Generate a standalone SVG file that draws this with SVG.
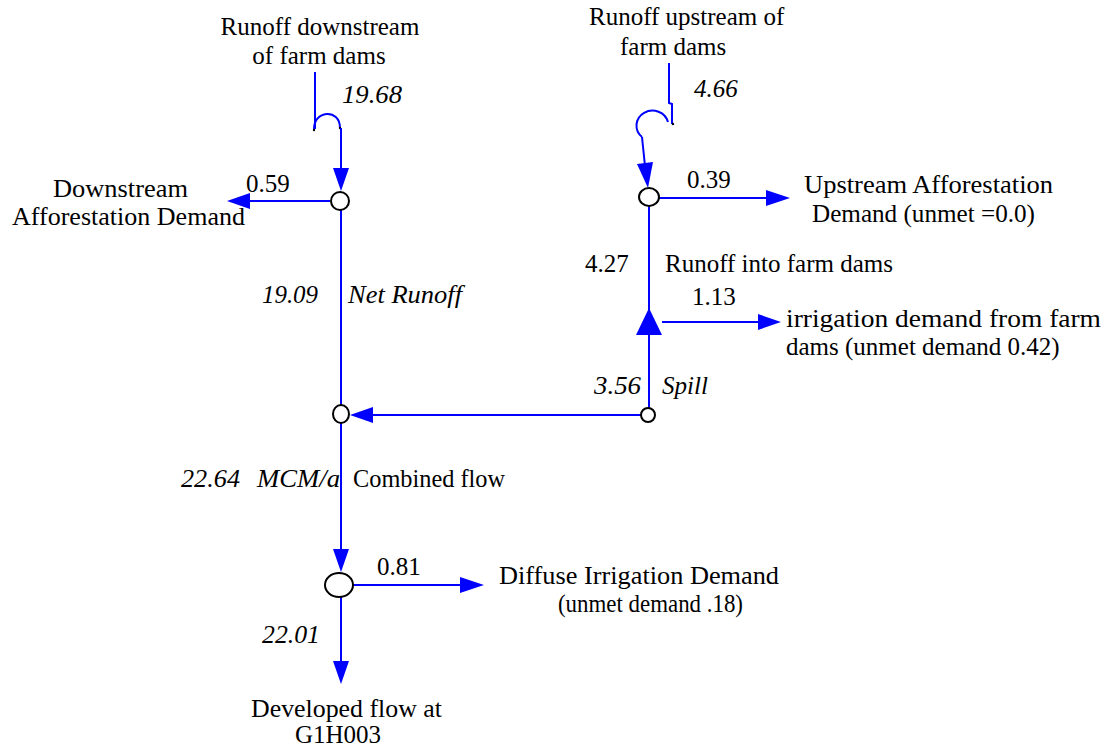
<svg xmlns="http://www.w3.org/2000/svg" width="1108" height="749" viewBox="0 0 1108 749" font-size="25">
<style>
.t{font-family:"Liberation Serif","Times New Roman","DejaVu Serif",serif;fill:#000}
.i{font-style:italic}
.ln{stroke:#0000FF;stroke-width:2;fill:none}
.ah{fill:#0000FF;stroke:none}
.nd{fill:#fff;stroke:#000;stroke-width:2}
</style>
<rect width="1108" height="749" fill="#fff"/>
<g id="connectors">
  <path class="ln" d="M315,72 V129"/>
  <path class="ln" d="M314,130 C313,110 340,108 340,128"/>
  <circle cx="314" cy="130" r="1.2" fill="#000"/>
  <circle cx="340" cy="128" r="1.2" fill="#000"/>
  <path class="ln" d="M341,128 V170"/>
  <polygon class="ah" points="333,168 349,168 341,191"/>
  <path class="ln" d="M330,201 H248"/>
  <polygon class="ah" points="250,193 250,209 227,201"/>
  <path class="ln" d="M341,210 V405"/>
  <path class="ln" d="M641,415 H371"/>
  <polygon class="ah" points="373,407 373,423 350,415"/>
  <path class="ln" d="M341,423 V552"/>
  <polygon class="ah" points="333,549 349,549 341,572"/>
  <path class="ln" d="M353,585 H462"/>
  <polygon class="ah" points="460,577 460,593 484,585"/>
  <path class="ln" d="M341,597 V664"/>
  <polygon class="ah" points="333,661 349,661 341,684"/>
  <path class="ln" d="M669,63 V103 L672,104 V124"/>
  <circle cx="673" cy="124" r="1.2" fill="#000"/>
  <path class="ln" d="M668,122 A16,15 0 1 0 642,137"/>
  <path class="ln" d="M642,137 L645,166"/>
  <polygon class="ah" points="637,164 653,162 648,188"/>
  <path class="ln" d="M659,198 H768"/>
  <polygon class="ah" points="766,190 766,206 790,198"/>
  <path class="ln" d="M649,206 V310"/>
  <path class="ln" d="M662,322 H760"/>
  <polygon class="ah" points="758,314 758,330 781,322"/>
  <path class="ln" d="M649,335 V408"/>
</g>
<g id="node-downstream-source">
  <text class="t" x="320" y="35" text-anchor="middle">Runoff downstream</text>
  <text class="t" x="319" y="64" text-anchor="middle">of farm dams</text>
  <text class="t i" x="342" y="103" textLength="60" lengthAdjust="spacingAndGlyphs">19.68</text>
</g>
<g id="node-upstream-source">
  <text class="t" x="589" y="25">Runoff upstream of</text>
  <text class="t" x="620" y="55">farm dams</text>
  <text class="t i" x="694" y="97">4.66</text>
</g>
<g id="node-downstream-junction">
  <ellipse class="nd" cx="340" cy="201" rx="9" ry="9"/>
  <text class="t" x="246" y="192">0.59</text>
  <text class="t" x="53" y="197" textLength="135" lengthAdjust="spacingAndGlyphs">Downstream</text>
  <text class="t" x="12" y="225" textLength="233" lengthAdjust="spacingAndGlyphs">Afforestation Demand</text>
  <text class="t i" x="262" y="303" textLength="56" lengthAdjust="spacingAndGlyphs">19.09</text>
  <text class="t i" x="348" y="303" textLength="114" lengthAdjust="spacingAndGlyphs">Net Runoff</text>
</g>
<g id="node-upstream-junction">
  <ellipse class="nd" cx="649" cy="197" rx="10" ry="9"/>
  <text class="t" x="687" y="188">0.39</text>
  <text class="t" x="804" y="193" textLength="249" lengthAdjust="spacingAndGlyphs">Upstream Afforestation</text>
  <text class="t" x="812" y="222" textLength="223" lengthAdjust="spacingAndGlyphs">Demand (unmet =0.0)</text>
  <text class="t" x="585" y="272">4.27</text>
  <text class="t" x="665" y="272">Runoff into farm dams</text>
</g>
<g id="node-farm-dam">
  <polygon fill="#0000FF" points="649,308 662,335 636,335"/>
  <text class="t" x="692" y="305">1.13</text>
  <text class="t" x="786" y="327" textLength="315" lengthAdjust="spacingAndGlyphs">irrigation demand from farm</text>
  <text class="t" x="786" y="355">dams (unmet demand 0.42)</text>
</g>
<g id="node-spill">
  <ellipse class="nd" cx="648" cy="415" rx="7" ry="7"/>
  <text class="t i" x="594" y="394" textLength="47" lengthAdjust="spacingAndGlyphs">3.56</text>
  <text class="t i" x="662" y="394">Spill</text>
</g>
<g id="node-combined">
  <ellipse class="nd" cx="341" cy="414" rx="8" ry="9"/>
  <text class="t i" x="181" y="487" textLength="59" lengthAdjust="spacingAndGlyphs">22.64</text>
  <text class="t i" x="257" y="487" textLength="83" lengthAdjust="spacingAndGlyphs">MCM/a</text>
  <text class="t" x="353" y="487" textLength="152" lengthAdjust="spacingAndGlyphs">Combined flow</text>
</g>
<g id="node-diffuse">
  <ellipse class="nd" cx="339" cy="585" rx="14" ry="12"/>
  <text class="t" x="377" y="575">0.81</text>
  <text class="t" x="499" y="584" textLength="280" lengthAdjust="spacingAndGlyphs">Diffuse Irrigation Demand</text>
  <text class="t" x="558" y="612" textLength="185" lengthAdjust="spacingAndGlyphs">(unmet demand .18)</text>
  <text class="t i" x="262" y="643" textLength="58" lengthAdjust="spacingAndGlyphs">22.01</text>
</g>
<g id="node-outlet">
  <text class="t" x="251" y="717" textLength="191" lengthAdjust="spacingAndGlyphs">Developed flow at</text>
  <text class="t" x="338" y="743" text-anchor="middle">G1H003</text>
</g>
</svg>
